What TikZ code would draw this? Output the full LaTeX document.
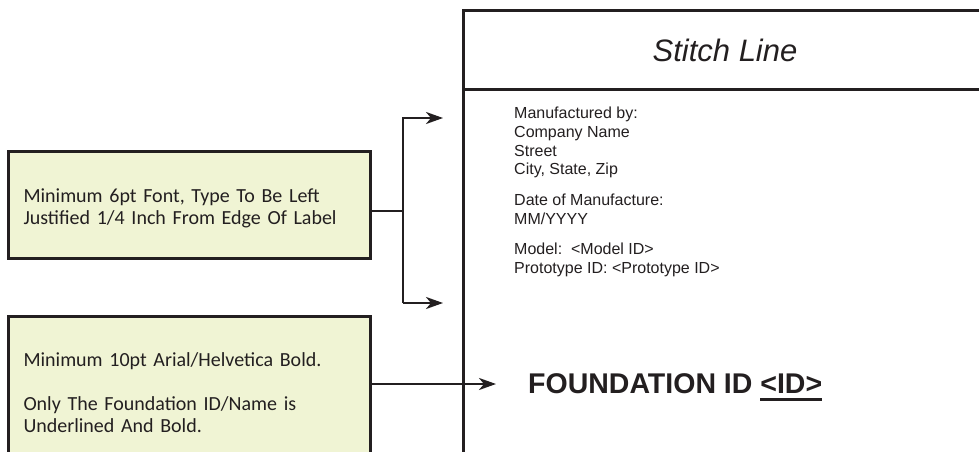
\documentclass[tikz,border=0pt]{standalone}
\usepackage{fontspec}
\setmainfont{Liberation Sans}
\newfontfamily\carl{Carlito}
\usetikzlibrary{arrows.meta}
\definecolor{lc}{RGB}{35,31,32}
\definecolor{boxfill}{RGB}{240,244,212}
\newcommand\myul[1]{\setbox0\hbox{#1}\rlap{\rule[-7.5pt]{\wd0}{2.2pt}}\box0}
\tikzset{
  notebox/.style={draw=lc, line width=3pt, fill=boxfill, anchor=north west,
    minimum width=362pt, text width=332pt, inner xsep=15pt, align=left,
    font=\carl\fontsize{20}{22}\selectfont, text=lc},
  conn/.style={draw=lc, line width=2.5pt},
  arr/.style={conn, -{Stealth[length=17pt,width=12pt,inset=5pt]}},
  labelline/.style={draw=lc, line width=3pt},
}
\begin{document}
\begin{tikzpicture}[x=1pt,y=-1pt]
\useasboundingbox[fill=white] (0,0) rectangle (979,452);
\clip (0,0) rectangle (979,452);
% label outline
\coordinate (tr) at (995,11);
\coordinate (tl) at (463,11);
\coordinate (bl) at (463,470);
\coordinate (hl) at (463,89);
\coordinate (hr) at (995,89);
\draw[labelline] (tr) -- (tl) -- (bl);
\draw[labelline] (hl) -- (hr);
\node[anchor=base, font=\itshape\fontsize{31}{36}\selectfont, text=lc] (title) at (725,62) {Stitch Line};
\node[anchor=north west, inner sep=0pt, align=left, font=\fontsize{16}{18.7}\selectfont, text=lc] (body) at (514,107)
 {Manufactured by:\\Company Name\\Street\\City, State, Zip\\[12pt]Date of Manufacture:\\MM/YYYY\\[12pt]Model:\ \ {<}Model ID{>}\\Prototype ID: {<}Prototype ID{>}};
\node[anchor=base west, inner sep=0pt, font=\bfseries\fontsize{28.5}{32}\selectfont, text=lc] (fid) at (528,393) {FOUNDATION ID \myul{<ID>}};
% note boxes
\node[notebox, minimum height=107pt] (box1) at (7,150) {\rule{0pt}{20pt}Minimum 6pt Font, Type To Be Left\\Justified 1/4 Inch From Edge Of Label};
\node[notebox, minimum height=152pt] (box2) at (7,315) {Minimum 10pt Arial/Helvetica Bold.\\[22pt]Only The Foundation ID/Name is\\Underlined And Bold.};
% connectors
\coordinate (bj) at (403,211);
\coordinate (bt) at (403,118);
\coordinate (bb) at (403,303);
\coordinate (at) at (443,118);
\coordinate (ab) at (443,303);
\coordinate (af) at (496,384);
\draw[conn] (box1.east |- bj) -- (bj);
\draw[arr, line join=miter] (bb) -- (bt) -- (at);
\draw[arr] (bt |- bb) -- (ab);
\draw[arr] (box2.west |- af) ++(362,0) -- (af);
\end{tikzpicture}
\end{document}
